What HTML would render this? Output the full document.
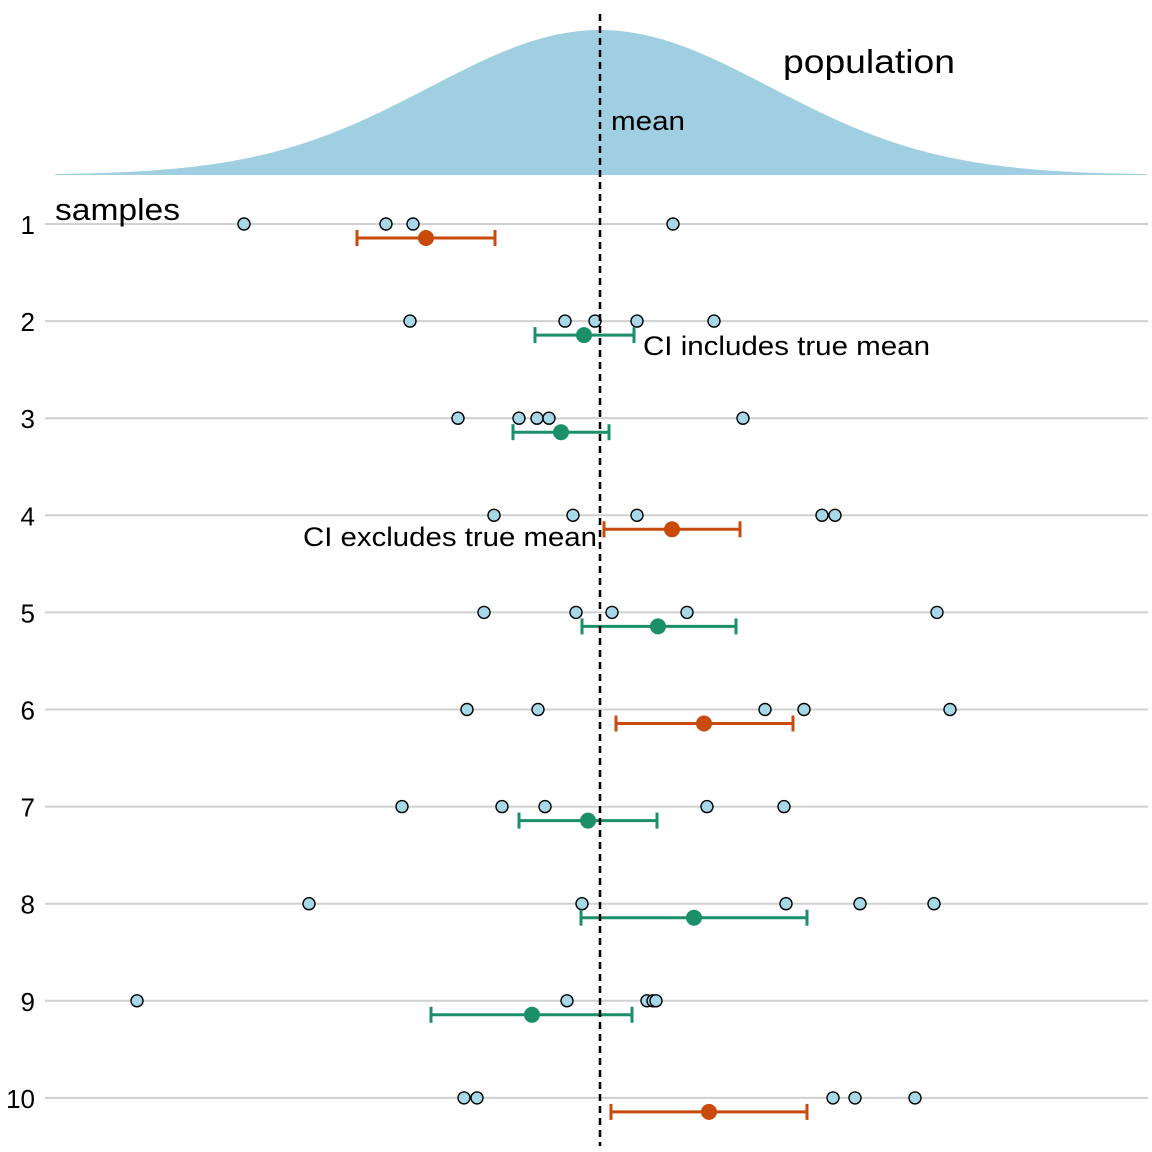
<!DOCTYPE html>
<html><head><meta charset="utf-8"><style>
html,body{margin:0;padding:0;background:#fff;}
svg{display:block;font-family:"Liberation Sans",sans-serif;}
</style></head><body>
<svg id="chart" width="1152" height="1152" viewBox="0 0 1152 1152" xmlns="http://www.w3.org/2000/svg">
<path id="curve" fill="#9fcfe0"/>
<g id="grid"></g>
<g id="marks"></g>
<line x1="600" y1="14" x2="600" y2="1146" stroke="#000" stroke-width="2.5" stroke-dasharray="7,5"/>
<text x="783" y="73" font-size="33" textLength="172" lengthAdjust="spacingAndGlyphs">population</text>
<text x="611" y="130" font-size="27" textLength="74" lengthAdjust="spacingAndGlyphs">mean</text>
<text x="55" y="220" font-size="31" textLength="125" lengthAdjust="spacingAndGlyphs">samples</text>
<text x="643" y="355" font-size="27" textLength="287" lengthAdjust="spacingAndGlyphs">CI includes true mean</text>
<text x="303" y="546" font-size="27" textLength="294" lengthAdjust="spacingAndGlyphs">CI excludes true mean</text>
</svg>
<script>
const samples=[1,2,3,4,5,6,7,8,9,10];
const points=[
[-3.56,-2.14,-1.87,0.73],
[-1.90,-0.35,-0.05,0.37,1.14],
[-1.42,-0.81,-0.63,-0.51,1.43],
[-1.06,-0.27,0.37,2.22,2.35],
[-1.16,-0.24,0.12,0.87,3.37],
[-1.33,-0.62,1.65,2.04,3.50],
[-1.98,-0.98,-0.55,1.07,1.84],
[-2.91,-0.18,1.86,2.60,3.34],
[-4.63,-0.33,0.47,0.53,0.56],
[-1.36,-1.23,2.33,2.55,3.15]];
const means=[-1.74,-0.16,-0.39,0.72,0.58,1.04,-0.12,0.94,-0.68,1.09];
const ciLow=[-2.43,-0.65,-0.87,0.04,-0.18,0.16,-0.81,-0.19,-1.69,0.11];
const ciHigh=[-1.05,0.34,0.09,1.40,1.36,1.93,0.57,2.07,0.32,2.07];
const popMean=0, popSd=1.7;
const X=v=>600+v*100;
const Y=i=>224+(i-1)*97.1;
const NS="http://www.w3.org/2000/svg";
function mk(t,a,p){const e=document.createElementNS(NS,t);for(const k in a)e.setAttribute(k,a[k]);p.appendChild(e);return e;}
let d="M55,175";
for(let px=55;px<=1148;px+=3){const v=(px-600)/100;const z=(v-popMean)/popSd;d+=" L"+px+","+(175-145*Math.exp(-z*z/2)).toFixed(2);}
d+=" L1148,175 Z";
document.getElementById('curve').setAttribute('d',d);
const grid=document.getElementById('grid'),marks=document.getElementById('marks');
samples.forEach((s,i)=>{
 const y=Y(s);
 const gl=mk('line',{x1:45,x2:1148,y1:y,y2:y,stroke:'#d0d0d0','stroke-width':2},grid);
 
 
 const lb=mk('text',{x:35,y:y+10,'font-size':26,'text-anchor':'end'},grid);lb.textContent=s;
 
 
 points[i].forEach((v,j)=>{
  const c=mk('circle',{cx:X(v),cy:y,r:6,fill:'#a6d8e8',stroke:'#000','stroke-width':1.4},marks);
  
  
 });
 const inc=ciLow[i]<=popMean&&ciHigh[i]>=popMean;
 const col=inc?'#1b8f68':'#c84a0c';
 const cy=y+14;
 const g=mk('g',{stroke:col,'stroke-width':3},marks);
 
 
 mk('line',{x1:X(ciLow[i]),x2:X(ciHigh[i]),y1:cy,y2:cy},g);
 mk('line',{x1:X(ciLow[i]),x2:X(ciLow[i]),y1:cy-8,y2:cy+8},g);
 mk('line',{x1:X(ciHigh[i]),x2:X(ciHigh[i]),y1:cy-8,y2:cy+8},g);
 const m=mk('circle',{cx:X(means[i]),cy:cy,r:8,fill:col},marks);
 
 
});
</script>
</body></html>
